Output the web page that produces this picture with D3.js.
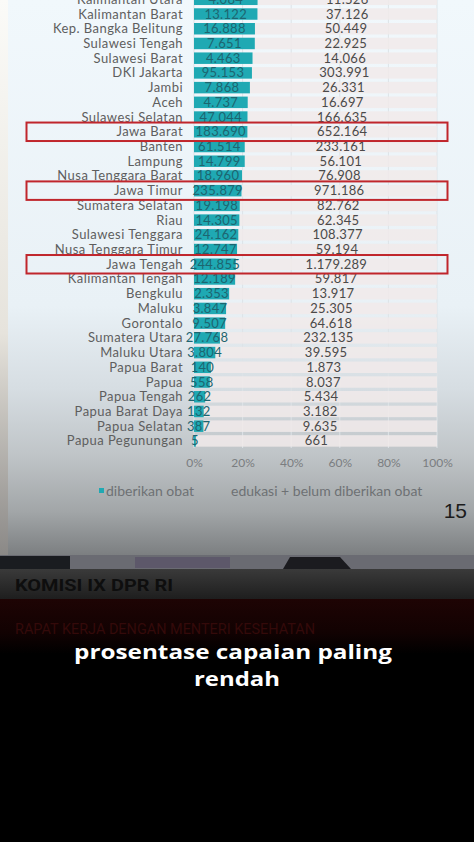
<!DOCTYPE html>
<html><head><meta charset="utf-8">
<script src="https://cdn.jsdelivr.net/npm/d3@7"></script>
<style>
html,body{margin:0;padding:0;background:#000;}
svg{display:block;}
</style></head>
<body>
<script>
const categories = ["Kalimantan Utara","Kalimantan Barat","Kep. Bangka Belitung","Sulawesi Tengah","Sulawesi Barat","DKI Jakarta","Jambi","Aceh","Sulawesi Selatan","Jawa Barat","Banten","Lampung","Nusa Tenggara Barat","Jawa Timur","Sumatera Selatan","Riau","Sulawesi Tenggara","Nusa Tenggara Timur","Jawa Tengah","Kalimantan Tengah","Bengkulu","Maluku","Gorontalo","Sumatera Utara","Maluku Utara","Papua Barat","Papua","Papua Tengah","Papua Barat Daya","Papua Selatan","Papua Pegunungan"];
const diberikan = [4084,13122,16888,7651,4463,95153,7868,4737,47044,183690,61514,14799,18960,235879,19198,14305,24162,12747,244855,12189,2353,3847,9507,27768,3804,140,558,262,132,387,5];
const edukasi = [11526,37126,50449,22925,14066,303991,26331,16697,166635,652164,233161,56101,76908,971186,82762,62345,108377,59194,1179289,59817,13917,25305,64618,232135,39595,1873,8037,5434,3182,9635,661];
const tickValues = [0,0.2,0.4,0.6,0.8,1];
const highlighted = ["Jawa Barat","Jawa Timur","Jawa Tengah"];
const legendLabels = ["diberikan obat","edukasi + belum diberikan obat"];

const W=474,H=842;
const svg=d3.select("body").append("svg").attr("width",W).attr("height",H);
const defs=svg.append("defs");

const g1=defs.append("linearGradient").attr("id","bg").attr("x1",0).attr("y1",0).attr("x2",0).attr("y2",1);
[[0,"#f1f8fc"],[0.55,"#e9f1f6"],[0.7,"#d6dde2"],[0.82,"#bfc4c7"],[0.92,"#a2a6a8"],[1,"#7b7e80"]].forEach(s=>g1.append("stop").attr("offset",s[0]).attr("stop-color",s[1]));
svg.append("rect").attr("x",0).attr("y",0).attr("width",W).attr("height",556).attr("fill","url(#bg)");
const g2=defs.append("linearGradient").attr("id","lstrip").attr("x1",0).attr("y1",0).attr("x2",0).attr("y2",1);
[[0,"#fbfbf8"],[0.6,"#e6e3dc"],[1,"#8a8886"]].forEach(s=>g2.append("stop").attr("offset",s[0]).attr("stop-color",s[1]));
svg.append("rect").attr("x",0).attr("y",0).attr("width",8).attr("height",556).attr("fill","url(#lstrip)");

svg.append("rect").attr("x",0).attr("y",555).attr("width",W).attr("height",14).attr("fill","#6a6b72");
svg.append("rect").attr("x",0).attr("y",556).attr("width",70).attr("height",13).attr("fill","#1a1c20");
svg.append("rect").attr("x",135).attr("y",557).attr("width",95).attr("height",11).attr("fill","#5a5468").attr("opacity",0.8);
svg.append("path").attr("d","M283,569 L290,557 L340,557 L351,569 Z").attr("fill","#1b1b1f");
const g3=defs.append("linearGradient").attr("id","band").attr("x1",0).attr("y1",0).attr("x2",0).attr("y2",1);
[[0,"#3a3a3a"],[1,"#1e1e1e"]].forEach(s=>g3.append("stop").attr("offset",s[0]).attr("stop-color",s[1]));
svg.append("rect").attr("x",0).attr("y",569).attr("width",W).attr("height",30).attr("fill","url(#band)");
svg.append("text").attr("x",15).attr("y",591).text("KOMISI IX DPR RI")
  .attr("font-family","Liberation Sans Narrow, Roboto, sans-serif").attr("font-weight","bold").attr("font-size",17).attr("fill","#0e0e0e").attr("textLength",158).attr("lengthAdjust","spacingAndGlyphs");
const g4=defs.append("linearGradient").attr("id","red").attr("x1",0).attr("y1",0).attr("x2",0).attr("y2",1);
[[0,"#1e0404"],[0.6,"#120202"],[1,"#000"]].forEach(s=>g4.append("stop").attr("offset",s[0]).attr("stop-color",s[1]));
svg.append("rect").attr("x",0).attr("y",599).attr("width",W).attr("height",55).attr("fill","url(#red)");
svg.append("text").attr("x",15).attr("y",634).text("RAPAT KERJA DENGAN MENTERI KESEHATAN")
  .attr("font-family","Liberation Sans Narrow, Roboto, sans-serif").attr("font-size",15).attr("fill","#340a0a").attr("textLength",300).attr("lengthAdjust","spacingAndGlyphs");

svg.append("text").attr("x",233).attr("y",659).attr("text-anchor","middle").text("prosentase capaian paling")
  .attr("font-family","Open Sans, sans-serif").attr("font-weight","bold").attr("font-size",19.5).attr("fill","#fff").attr("textLength",318).attr("lengthAdjust","spacingAndGlyphs");
svg.append("text").attr("x",237).attr("y",686).attr("text-anchor","middle").text("rendah")
  .attr("font-family","Open Sans, sans-serif").attr("font-weight","bold").attr("font-size",19.5).attr("fill","#fff").attr("textLength",86).attr("lengthAdjust","spacingAndGlyphs");

const x=d3.scaleLinear().domain([0,1]).range([194,437]);
const y=d3.scaleBand().domain(categories).range([-8.06,-8.06+categories.length*14.72]).paddingInner(0.22).paddingOuter(0.11);
const bh=y.bandwidth();
const chart=svg.append("g");

chart.selectAll("line.grid").data(tickValues).join("line").attr("class","grid")
  .attr("x1",d=>x(d)).attr("x2",d=>x(d)).attr("y1",0).attr("y2",448)
  .attr("stroke","#dde3e7").attr("stroke-width",1);

const data=categories.map((c,i)=>({c,a:diberikan[i],b:edukasi[i],p:diberikan[i]/(diberikan[i]+edukasi[i])}));
const rows=chart.selectAll("g.row").data(data).join("g").attr("class","row");
rows.append("rect").attr("x",d=>x(d.p)).attr("y",d=>y(d.c)).attr("width",d=>x(1)-x(d.p)).attr("height",bh).attr("fill","#f1eaea").attr("opacity",0.85);
rows.append("rect").attr("x",x(0)).attr("y",d=>y(d.c)).attr("width",d=>x(d.p)-x(0)).attr("height",bh).attr("fill","#1fa9b3");
const fmt=v=>d3.format(",")(v).replace(/,/g,".");
rows.append("text").attr("x",d=>(x(0)+x(d.p))/2).attr("y",d=>y(d.c)+bh/2+4.5).attr("text-anchor","middle")
  .text(d=>fmt(d.a)).attr("font-family","Lato, sans-serif").attr("font-size",13).attr("letter-spacing",0.3).attr("fill","#1d6570");
rows.append("text").attr("x",d=>(x(d.p)+x(1))/2).attr("y",d=>y(d.c)+bh/2+4.5).attr("text-anchor","middle")
  .text(d=>fmt(d.b)).attr("font-family","Lato, sans-serif").attr("font-size",13).attr("letter-spacing",0.3).attr("fill","#4a4a4a");
rows.append("text").attr("x",183).attr("y",d=>y(d.c)+bh/2+4.5).attr("text-anchor","end")
  .text(d=>d.c).attr("font-family","Lato, sans-serif").attr("font-size",13).attr("letter-spacing",0.45).attr("fill","#5e5e5e");

chart.selectAll("rect.hl").data(highlighted).join("rect").attr("class","hl")
  .attr("x",26.5).attr("y",d=>y(d)-3.5).attr("width",421).attr("height",bh+7)
  .attr("fill","none").attr("stroke","#c0262c").attr("stroke-width",2);

const axis=d3.axisBottom(x).tickValues(tickValues).tickFormat(d3.format(".0%")).tickSize(0);
const ag=chart.append("g").attr("transform","translate(0,455)").call(axis);
ag.select(".domain").remove();
ag.selectAll("text").attr("font-family","Lato, sans-serif").attr("font-size",12).attr("fill","#7a7d80");

svg.append("rect").attr("x",99).attr("y",488).attr("width",5).attr("height",5).attr("fill","#1fa9b3");
svg.append("text").attr("x",106).attr("y",496).text(legendLabels[0]).attr("font-family","Lato, sans-serif").attr("font-size",14).attr("fill","#6e7174");
svg.append("text").attr("x",231).attr("y",496).text(legendLabels[1]).attr("font-family","Lato, sans-serif").attr("font-size",14).attr("fill","#6e7174");
svg.append("text").attr("x",467).attr("y",518).attr("text-anchor","end").text("15").attr("font-family","Liberation Sans, Arial, sans-serif").attr("font-size",21).attr("fill","#1c1c1c");
</script>
</body></html>
